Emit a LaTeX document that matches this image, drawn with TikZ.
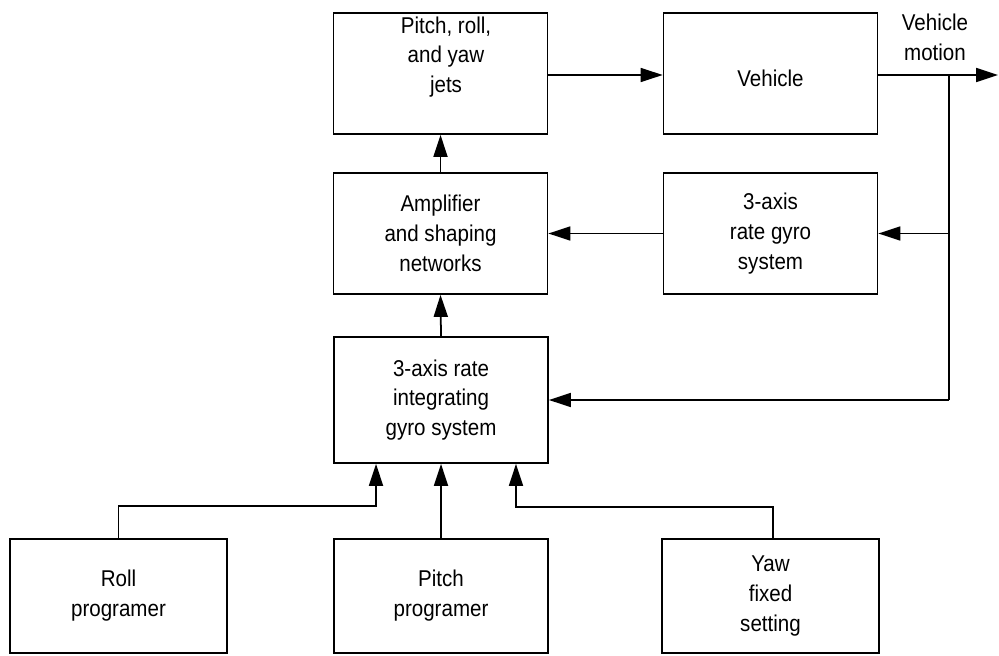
\documentclass[tikz,border=0pt]{standalone}
\usepackage{fontspec}
\setmainfont{Liberation Sans}[FakeStretch=0.9]
\usepackage{tikz}
\usetikzlibrary{shapes.geometric, arrows.meta}
\usetikzlibrary{positioning}
\tikzstyle{arrow} = [line width=1pt,-{Triangle[length=0.44cm,width=0.28cm]}]
\tikzstyle{line}  = [line width=1pt]
\tikzstyle{block} = [draw=black, line width=1pt, align=center, minimum width=4.28cm, minimum height=2.42cm, font=\fontsize{13}{17}\selectfont]
\tikzstyle{words} = [align=center, font=\fontsize{13}{17}\selectfont]

\begin{document}
\begin{tikzpicture}[x=0.02cm, y=-0.02cm]
      \useasboundingbox (0,0) rectangle (999,655);
      % Top row
      \node[block] (jets) at (440.5,73.5) {};
      \node[words] (jetstext) at (446,57) {Pitch, roll,\\and yaw\\jets};
      \node[block] (vehicle) at (770.5,73.5) {};
      \node[words] (vehicletext) at (770.5,78) {Vehicle};
      % Middle row
      \node[block] (amp) at (440.5,233.5) {Amplifier\\and shaping\\networks};
      \node[block] (rategyro) at (770.5,233.5) {3-axis\\rate gyro\\system};
      % Integrating gyros
      \node[block, minimum height=2.52cm] (integ) at (441,400) {3-axis rate\\integrating\\gyro system};
      % Bottom row
      \node[block, minimum width=4.34cm, minimum height=2.28cm] (roll) at (118.5,596) {Roll\\programer};
      \node[block, minimum height=2.28cm] (pitch) at (441,596) {Pitch\\programer};
      \node[block, minimum width=4.34cm, minimum height=2.28cm] (yaw) at (770.5,596) {Yaw\\fixed\\setting};
      % Output
      \node[words] (motion) at (935,37) {Vehicle\\motion};
      \coordinate (out) at (998,75);
      \coordinate (tap) at (949,75);

      \draw[arrow] (jets.east |- 0,75) -- (vehicle.west |- 0,75);
      \draw[arrow] (vehicle.east |- 0,75) -- (out);
      \draw[line] (tap) -- (tap |- integ.east);
      \draw[arrow] (tap |- rategyro.east) -- (rategyro.east);
      \draw[arrow] (tap |- integ.east) -- (integ.east);
      \draw[arrow] (rategyro.west) -- (amp.east);
      \draw[arrow] (amp.north) -- (jets.south);
      \draw[arrow] (integ.north) -- (amp.south);
      \draw[arrow] (pitch.north) -- (integ.south);
      \draw[arrow] (roll.north) -- ++(0,-32) -| ([xshift=-1.3cm]integ.south);
      \draw[arrow] ([xshift=0.05cm]yaw.north) -- ++(0,-31) -| ([xshift=1.5cm]integ.south);
    \end{tikzpicture}
\end{document}
